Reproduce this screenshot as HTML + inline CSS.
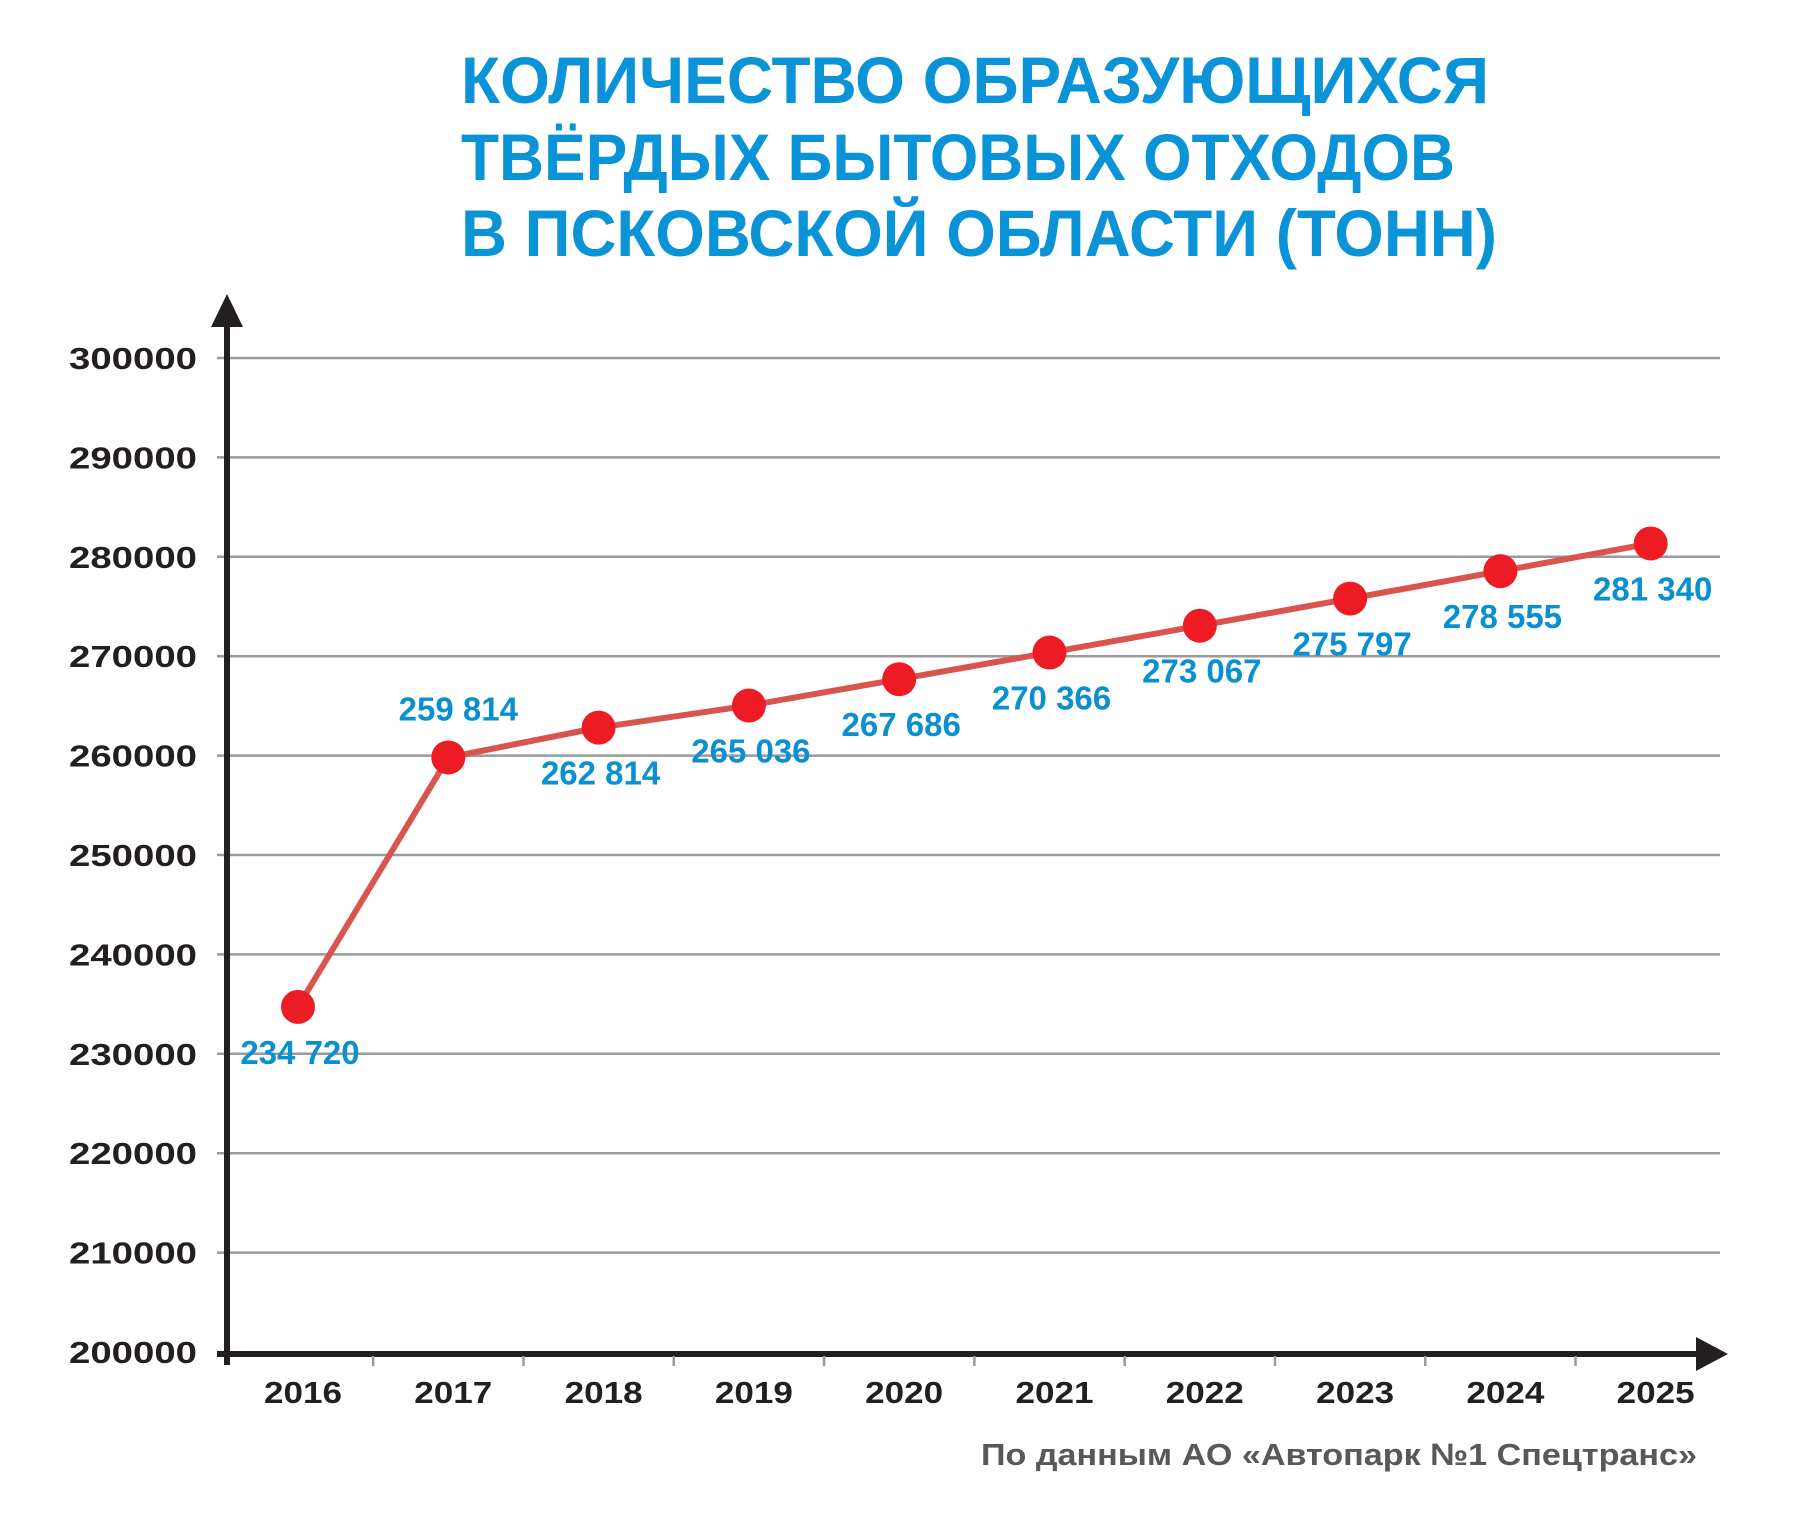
<!DOCTYPE html>
<html><head><meta charset="utf-8"><style>
html,body{margin:0;padding:0;background:#fff;}
svg{display:block;}
</style></head><body>
<svg id="chart" width="1800" height="1533" viewBox="0 0 1800 1533" xmlns="http://www.w3.org/2000/svg">
<g font-family="'Liberation Sans', sans-serif" font-weight="bold" font-size="66" fill="#0a93d6">
<text x="461" y="103" textLength="1028" lengthAdjust="spacingAndGlyphs">КОЛИЧЕСТВО ОБРАЗУЮЩИХСЯ</text>
<text x="461" y="180" textLength="994" lengthAdjust="spacingAndGlyphs">ТВЁРДЫХ БЫТОВЫХ ОТХОДОВ</text>
<text x="461" y="256" textLength="1036" lengthAdjust="spacingAndGlyphs">В ПСКОВСКОЙ ОБЛАСТИ (ТОНН)</text>
</g>
<g id="grid"></g>
<g id="yticks"></g>
<g id="xticks"></g>
<g id="series"></g>
<g id="labels"></g>
<text x="1697" y="1465" text-anchor="end" textLength="716" lengthAdjust="spacingAndGlyphs" font-family="'Liberation Sans', sans-serif" font-weight="bold" font-size="31" fill="#58585a">По данным АО «Автопарк №1 Спецтранс»</text>
</svg>
<script>
const categories = ["2016","2017","2018","2019","2020","2021","2022","2023","2024","2025"];
const values = [234720, 259814, 262814, 265036, 267686, 270366, 273067, 275797, 278555, 281340];
const valueLabels = ["234 720","259 814","262 814","265 036","267 686","270 366","273 067","275 797","278 555","281 340"];
const labelAbove = [false, true, false, false, false, false, false, false, false, false];
const yTicks = [200000,210000,220000,230000,240000,250000,260000,270000,280000,290000,300000];

const NS = "http://www.w3.org/2000/svg";
const yMin = 200000, yMax = 300000, yTop = 358, yBot = 1352;
const x0 = 298, xStep = 150.3;
function yScale(v){ return yBot - (v - yMin) / (yMax - yMin) * (yBot - yTop); }
function xScale(i){ return x0 + i * xStep; }
function mk(tag, attrs, parent){
  const e = document.createElementNS(NS, tag);
  for (const k in attrs) e.setAttribute(k, attrs[k]);
  parent.appendChild(e);
  return e;
}
const grid = document.getElementById('grid');
const yt = document.getElementById('yticks');
yTicks.forEach(v => {
  const y = yScale(v);
  if (v !== yMin) {
    const l = mk('line', {x1:217, x2:1720, y1:y, y2:y, stroke:'#9a9a9d', 'stroke-width':2.5}, grid);
    
    
  }
  const t = mk('text', {x:197, y:y+11, 'text-anchor':'end', textLength:128, lengthAdjust:'spacingAndGlyphs', 'font-family':"'Liberation Sans', sans-serif", 'font-weight':'bold', 'font-size':31, fill:'#231f20'}, yt);
  t.textContent = String(v);
  
  
});
const yAxis = mk('line', {x1:227, x2:227, y1:322, y2:1365, stroke:'#231f20', 'stroke-width':6}, grid);


const yArrow = mk('polygon', {points:'227,294 211,327 243,327', fill:'#231f20'}, grid);


const xAxis = mk('line', {x1:217, x2:1700, y1:1354, y2:1354, stroke:'#231f20', 'stroke-width':6}, grid);


const xArrow = mk('polygon', {points:'1728,1354 1696,1337 1696,1371', fill:'#231f20'}, grid);


const xt = document.getElementById('xticks');
categories.forEach((c, i) => {
  const x = xScale(i);
  if (i > 0) {
    const tk = mk('line', {x1:x - xStep/2, x2:x - xStep/2, y1:1356, y2:1366, stroke:'#9a9a9d', 'stroke-width':2.5}, xt);
    
    
  }
  const t = mk('text', {x:x+5, y:1403, 'text-anchor':'middle', textLength:78, lengthAdjust:'spacingAndGlyphs', 'font-family':"'Liberation Sans', sans-serif", 'font-weight':'bold', 'font-size':31, fill:'#231f20'}, xt);
  t.textContent = c;
  
  
});
const s = document.getElementById('series');
const pts = values.map((v, i) => xScale(i) + ',' + yScale(v)).join(' ');
const pl = mk('polyline', {points:pts, fill:'none', stroke:'#d9534f', 'stroke-width':6, 'stroke-linejoin':'round'}, s);


const lb = document.getElementById('labels');
values.forEach((v, i) => {
  const c = mk('circle', {cx:xScale(i), cy:yScale(v), r:17, fill:'#ed1c24'}, s);
  
  
  const ly = labelAbove[i] ? yScale(v) - 37 : yScale(v) + 57;
  const t = mk('text', {x:xScale(i) + (i === 1 ? 10 : 2), y:ly, 'text-anchor':'middle', 'font-family':"'Liberation Sans', sans-serif", 'font-weight':'bold', 'font-size':33, fill:'#0a8fd0'}, lb);
  t.textContent = valueLabels[i];
  
  
});
</script>
</body></html>
